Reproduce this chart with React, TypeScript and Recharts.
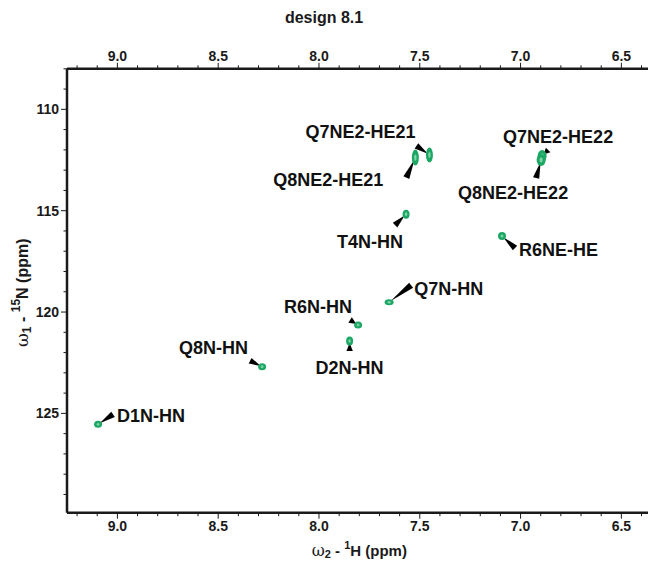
import React from "react";
import { ScatterChart, Scatter, XAxis, YAxis } from "recharts";

// assigned cross peaks: 1H (w2) and 15N (w1) shifts in ppm
const peakNames = [
    "D1N-HN",
    "D2N-HN",
    "T4N-HN",
    "R6N-HN",
    "Q7N-HN",
    "Q8N-HN",
    "R6NE-HE",
    "Q7NE2-HE21",
    "Q8NE2-HE21",
    "Q7NE2-HE22",
    "Q8NE2-HE22",
];
const hShifts = [9.096, 7.848, 7.568, 7.806, 7.652, 8.282, 7.092, 7.452, 7.522, 6.893, 6.898];
const nShifts = [125.54, 121.43, 115.17, 120.64, 119.52, 122.7, 116.25, 112.25, 112.38, 112.3, 112.5];

const hMajorTicks = [9.0, 8.5, 8.0, 7.5, 7.0, 6.5];
const nMajorTicks = [110, 115, 120, 125];

const FONT = "'Liberation Sans', Arial, Helvetica, sans-serif";
const GREEN = "#1ca765";
const INK = "#1a1a1a";

// minor ticks every 0.1 ppm (1H) and 1 ppm (15N)
const hTicks: number[] = [];
for (let i = 64; i <= 92; i++) hTicks.push(i / 10);
const nTicks: number[] = [];
for (let i = 108; i <= 129; i++) nTicks.push(i);

// label placement (px from the peak), wedge base and contour size per peak
const layout: Record<string, { dx: number; dy: number; anchor: string; bx: number; by: number; rx: number; ry: number }> = {
    "D1N-HN": { dx: 19, dy: -8, anchor: "start", bx: 15, by: -10, rx: 4, ry: 3.5 },
    "D2N-HN": { dx: 0, dy: 27, anchor: "middle", bx: 0, by: 10, rx: 3.5, ry: 4.5 },
    "T4N-HN": { dx: -3, dy: 28, anchor: "end", bx: -11, by: 11, rx: 3.5, ry: 4.5 },
    "R6N-HN": { dx: -6, dy: -18, anchor: "end", bx: -8, by: -5, rx: 4, ry: 3.5 },
    "Q7N-HN": { dx: 25, dy: -13, anchor: "start", bx: 22, by: -17, rx: 4.5, ry: 3 },
    "Q8N-HN": { dx: -14, dy: -19, anchor: "end", bx: -12, by: -6, rx: 4, ry: 3.5 },
    "R6NE-HE": { dx: 17, dy: 14, anchor: "start", bx: 13, by: 12, rx: 4, ry: 4 },
    "Q7NE2-HE21": { dx: -14, dy: -23, anchor: "end", bx: -13, by: -9, rx: 3.5, ry: 7.5 },
    "Q8NE2-HE21": { dx: -32, dy: 22, anchor: "end", bx: -9, by: 20, rx: 3.5, ry: 8 },
    "Q7NE2-HE22": { dx: 16, dy: -19, anchor: "middle", bx: 6, by: -6, rx: 4.5, ry: 6 },
    "Q8NE2-HE22": { dx: -28, dy: 33, anchor: "middle", bx: -5, by: 18, rx: 4.5, ry: 6 },
};

const peaks = peakNames.map((name, i) => ({ name, h: hShifts[i], n: nShifts[i] }));

const isMajorH = (v: number) => hMajorTicks.some((t) => Math.abs(t - v) < 1e-6);
const isMajorN = (v: number) => nMajorTicks.includes(v);

function HTick(props: any) {
    const { x, y, payload, orientation } = props;
    const v = payload.value;
    const major = isMajorH(v);
    const dir = orientation === "top" ? -1 : 1;
    const len = major ? 6 : 3.5;
    return (
        <g>
            <line x1={x} x2={x} y1={y} y2={y + dir * len} stroke={INK} strokeWidth={1} />
            {major && (
                <text
                    x={x}
                    y={y + dir * 13}
                    textAnchor="middle"
                    dominantBaseline="central"
                    fontFamily={FONT}
                    fontWeight={700}
                    fontSize={14}
                    fill={INK}
                >
                    {v.toFixed(1)}
                </text>
            )}
        </g>
    );
}

function NTick(props: any) {
    const { x, y, payload } = props;
    const v = payload.value;
    const major = isMajorN(v);
    const len = major ? 6 : 3.5;
    return (
        <g>
            <line x1={x} x2={x - len} y1={y} y2={y} stroke={INK} strokeWidth={1} />
            {major && (
                <text
                    x={x - 8}
                    y={y}
                    textAnchor="end"
                    dominantBaseline="central"
                    fontFamily={FONT}
                    fontWeight={700}
                    fontSize={14}
                    fill={INK}
                >
                    {v}
                </text>
            )}
        </g>
    );
}

// wedge pointer + assignment text
function Annotation(props: any) {
    const { cx, cy, payload } = props;
    const a = layout[payload.name];
    const bx = cx + a.bx;
    const by = cy + a.by;
    const len = Math.hypot(a.bx, a.by);
    const ux = a.bx / len;
    const uy = a.by / len;
    const tx = cx + ux * 2;
    const ty = cy + uy * 2;
    const px = -uy * 3.2;
    const py = ux * 3.2;
    return (
        <g>
            <polygon points={`${tx},${ty} ${bx + px},${by + py} ${bx - px},${by - py}`} fill="#000" />
            <text
                x={cx + a.dx}
                y={cy + a.dy}
                textAnchor={a.anchor}
                dominantBaseline="central"
                fontFamily={FONT}
                fontWeight={700}
                fontSize={18}
                fill="#111"
            >
                {payload.name}
            </text>
        </g>
    );
}

// contour blob
function Peak(props: any) {
    const { cx, cy, payload } = props;
    const a = layout[payload.name];
    return (
        <g>
            <ellipse cx={cx} cy={cy} rx={a.rx} ry={a.ry} fill={GREEN} />
            <ellipse cx={cx} cy={cy} rx={a.rx * 0.35} ry={a.ry * 0.4} fill="#7fd4a6" />
        </g>
    );
}

function HTitle(props: any) {
    const { viewBox } = props;
    const x = viewBox.x + viewBox.width / 2;
    const y = viewBox.y + 37;
    return (
        <text x={x} y={y} textAnchor="middle" dominantBaseline="central" fontFamily={FONT} fontSize={15} fill={INK}>
            <tspan fontFamily="'DejaVu Serif', serif" fontSize={16}>ω</tspan>
            <tspan fontWeight={700} fontSize={11} dy={4}>2</tspan>
            <tspan fontWeight={700} dy={-4}> - </tspan>
            <tspan fontWeight={700} fontSize={11} dy={-5}>1</tspan>
            <tspan fontWeight={700} dy={5}>H  (ppm)</tspan>
        </text>
    );
}

function NTitle(props: any) {
    const { viewBox } = props;
    const x = viewBox.x + 15;
    const y = viewBox.y + viewBox.height / 2 + 2;
    return (
        <text
            x={x}
            y={y}
            transform={`rotate(-90 ${x} ${y})`}
            textAnchor="middle"
            dominantBaseline="central"
            fontFamily={FONT}
            fontSize={16}
            fill={INK}
        >
            <tspan fontFamily="'DejaVu Serif', serif" fontSize={17}>ω</tspan>
            <tspan fontWeight={700} fontSize={12} dy={5}>1</tspan>
            <tspan fontWeight={700} dy={-5}> - </tspan>
            <tspan fontWeight={700} fontSize={12} dy={-6}>15</tspan>
            <tspan fontWeight={700} dy={6}>N  (ppm)</tspan>
        </text>
    );
}

export default function App() {
    return (
        <div style={{ position: "relative", width: 648, height: 567, overflow: "hidden", background: "#fff" }}>
            <style>{"body{margin:0;overflow:hidden}"}</style>
            <div
                style={{
                    position: "absolute",
                    top: 9,
                    left: 0,
                    width: 648,
                    textAlign: "center",
                    fontFamily: FONT,
                    fontWeight: 700,
                    fontSize: 16,
                    lineHeight: "18px",
                    color: INK,
                    zIndex: 1,
                }}
            >
                design 8.1
            </div>
            <div style={{ position: "absolute", left: 0, top: 0 }}>
                <ScatterChart width={660} height={567} margin={{ top: 38.8, right: 8.4, bottom: 4.3, left: 7 }}>
                    <XAxis
                        xAxisId="bottom"
                        dataKey="h"
                        type="number"
                        orientation="bottom"
                        domain={[6.35, 9.25]}
                        allowDataOverflow
                        reversed
                        ticks={hTicks}
                        interval={0}
                        height={50}
                        tickSize={0}
                        tickMargin={0}
                        tickLine={false}
                        tick={<HTick />}
                        axisLine={{ stroke: INK, strokeWidth: 2.5 }}
                        label={{ content: <HTitle /> }}
                    />
                    <XAxis
                        xAxisId="top"
                        dataKey="h"
                        type="number"
                        orientation="top"
                        domain={[6.35, 9.25]}
                        allowDataOverflow
                        reversed
                        ticks={hTicks}
                        interval={0}
                        height={30}
                        tickSize={0}
                        tickMargin={0}
                        tickLine={false}
                        tick={<HTick />}
                        axisLine={{ stroke: INK, strokeWidth: 2.5 }}
                    />
                    <YAxis
                        dataKey="n"
                        type="number"
                        domain={[108, 129.9]}
                        allowDataOverflow
                        reversed
                        ticks={nTicks}
                        interval={0}
                        width={60}
                        tickSize={0}
                        tickMargin={0}
                        tickLine={false}
                        tick={<NTick />}
                        axisLine={{ stroke: INK, strokeWidth: 2.5 }}
                        label={{ content: <NTitle /> }}
                    />
                    <Scatter xAxisId="bottom" data={peaks} shape={<Annotation />} isAnimationActive={false} />
                    <Scatter xAxisId="bottom" data={peaks} shape={<Peak />} isAnimationActive={false} />
                </ScatterChart>
            </div>
        </div>
    );
}
